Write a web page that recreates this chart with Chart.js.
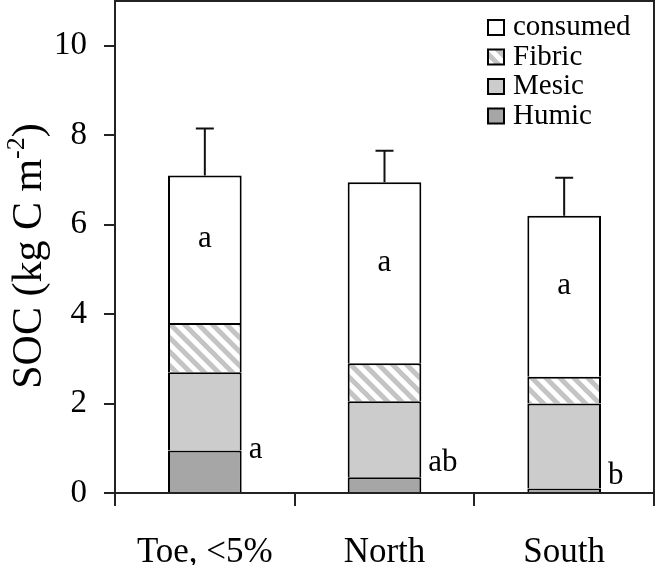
<!DOCTYPE html>
<html>
<head>
<meta charset="utf-8">
<script src="https://cdn.jsdelivr.net/npm/chart.js@4/dist/chart.umd.min.js"></script>
<style>
  body { margin: 0; background: #fff; }
  #wrap { width: 656px; height: 565px; }
</style>
</head>
<body>
<div id="wrap"><canvas id="myChart" width="656" height="565"></canvas></div>
<script>
// values (kg C m-2), stacked bottom to top
var categories = ["Toe, <5%", "North", "South"];
var humic = [0.95, 0.35, 0.1];
var mesic = [1.75, 1.7, 1.9];
var fibric = [1.1, 0.85, 0.6];
var consumed = [3.3, 4.05, 3.6];
var totalErr = [1.05, 0.7, 0.85];   // upper error bar on the total
var yTicks = [0, 2, 4, 6, 8, 10];
var consumedLetters = ["a", "a", "a"];
var humicLetters = ["a", "ab", "b"];
var humicLetterAt = [0.95, 0.65, 0.36]; // height (data units) of the letters next to the humic layer

var serif = '"Liberation Serif", "Times New Roman", serif';

function hatch() {
    var c = document.createElement("canvas");
    c.width = c.height = 14;
    var g = c.getContext("2d");
    g.fillStyle = "#fff";
    g.fillRect(0, 0, 14, 14);
    g.strokeStyle = "#c4c4c4";
    g.lineWidth = 5;
    g.beginPath();
    g.moveTo(-7, -7); g.lineTo(21, 21);
    g.moveTo(7, -7); g.lineTo(21, 7);
    g.moveTo(-7, 7); g.lineTo(7, 21);
    g.stroke();
    return g.createPattern(c, "repeat");
}
var fibricFill = hatch();

var legendItems = [
    { label: "consumed", fill: "#ffffff" },
    { label: "Fibric", fill: fibricFill },
    { label: "Mesic", fill: "#cccccc" },
    { label: "Humic", fill: "#a6a6a6" }
];

function totals(i) {
    return humic[i] + mesic[i] + fibric[i] + consumed[i];
}

var extras = {
    id: "extras",
    afterDatasetsDraw: function(chart) {
        var c = chart.ctx, y = chart.scales.y;
        var meta = chart.getDatasetMeta(0);
        c.save();
        c.strokeStyle = "#111";
        c.lineWidth = 2;
        c.fillStyle = "#000";
        for (var i = 0; i < categories.length; i++) {
            var bar = meta.data[i];
            var t = totals(i);
            var y0 = y.getPixelForValue(t), y1 = y.getPixelForValue(t + totalErr[i]);
            c.beginPath();
            c.moveTo(bar.x, y0); c.lineTo(bar.x, y1);
            c.moveTo(bar.x - 9, y1); c.lineTo(bar.x + 9, y1);
            c.stroke();

            // letters
            c.font = "31px " + serif;
            c.textAlign = "center";
            c.textBaseline = "middle";
            var mid = t - consumed[i] / 2;
            c.fillText(consumedLetters[i], bar.x, y.getPixelForValue(mid) - 10);
            c.textAlign = "left";
            c.textBaseline = "alphabetic";
            c.fillText(humicLetters[i], bar.x + bar.width / 2 + 7, y.getPixelForValue(humicLetterAt[i]) + 7);
        }
        c.restore();
    },
    afterDraw: function(chart) {
        var c = chart.ctx, a = chart.chartArea;
        c.save();
        // top and right frame
        c.strokeStyle = "#222";
        c.lineWidth = 2;
        c.beginPath();
        c.moveTo(a.left, a.top); c.lineTo(a.right, a.top); c.lineTo(a.right, a.bottom);
        c.stroke();

        // legend
        c.font = "29px " + serif;
        c.textBaseline = "alphabetic";
        c.textAlign = "left";
        for (var k = 0; k < legendItems.length; k++) {
            var by = a.top + 34 + k * 29.5;
            var bx = a.right - 166;
            c.fillStyle = legendItems[k].fill;
            c.fillRect(bx, by - 15, 16, 15);
            c.lineWidth = 2;
            c.strokeStyle = "#000";
            c.strokeRect(bx, by - 15, 16, 15);
            c.fillStyle = "#000";
            c.fillText(legendItems[k].label, bx + 25, by);
        }

        // y title with superscript
        var big = "42px " + serif, small = "26px " + serif;
        var p1 = "SOC (kg C m", p2 = "-2", p3 = ")";
        c.font = big; var w1 = c.measureText(p1).width, w3 = c.measureText(p3).width;
        c.font = small; var w2 = c.measureText(p2).width;
        var total = w1 + w2 + w3;
        c.translate(41, (a.top + a.bottom) / 2 + 9);
        c.rotate(-Math.PI / 2);
        c.fillStyle = "#000";
        var x0 = -total / 2;
        c.font = big; c.fillText(p1, x0, 0);
        c.font = small; c.fillText(p2, x0 + w1, -17);
        c.font = big; c.fillText(p3, x0 + w1 + w2, 0);
        c.restore();
    }
};

function ds(label, data, fill) {
    return {
        label: label,
        data: data,
        backgroundColor: fill,
        borderColor: "#000",
        borderWidth: 2,
        barPercentage: 0.41,
        categoryPercentage: 1.0
    };
}

const ctx = document.getElementById("myChart");
new Chart(ctx, {
    type: "bar",
    data: {
        labels: categories,
        datasets: [
            ds("Humic", humic, "#a6a6a6"),
            ds("Mesic", mesic, "#cccccc"),
            ds("Fibric", fibric, fibricFill),
            ds("consumed", consumed, "#ffffff")
        ]
    },
    options: {
        responsive: false,
        animation: false,
        layout: { padding: { top: 1, right: 2, left: 0, bottom: 0 } },
        plugins: { legend: { display: false }, tooltip: { enabled: false } },
        scales: {
            x: {
                stacked: true,
                grid: { drawOnChartArea: false, drawTicks: true, tickLength: 13, color: "#222", lineWidth: 2, offset: true },
                border: { display: true, color: "#222", width: 2 },
                ticks: { color: "#000", font: { family: serif, size: 35 }, padding: 26, maxRotation: 0 },
                afterFit: function(s) { s.height = 72; s.paddingLeft = 0; s.paddingRight = 0; }
            },
            y: {
                stacked: true,
                min: 0,
                max: 11,
                grid: { drawOnChartArea: false, drawTicks: true, tickLength: 11, color: "#222", lineWidth: 2 },
                border: { display: true, color: "#222", width: 2 },
                ticks: { color: "#000", font: { family: serif, size: 33 }, padding: 17 },
                afterBuildTicks: function(s) { s.ticks = yTicks.map(function(v) { return { value: v }; }); },
                afterFit: function(s) { s.width = 115; s.paddingTop = 0; s.paddingBottom = 0; }
            }
        }
    },
    plugins: [extras]
});
</script>
</body>
</html>
